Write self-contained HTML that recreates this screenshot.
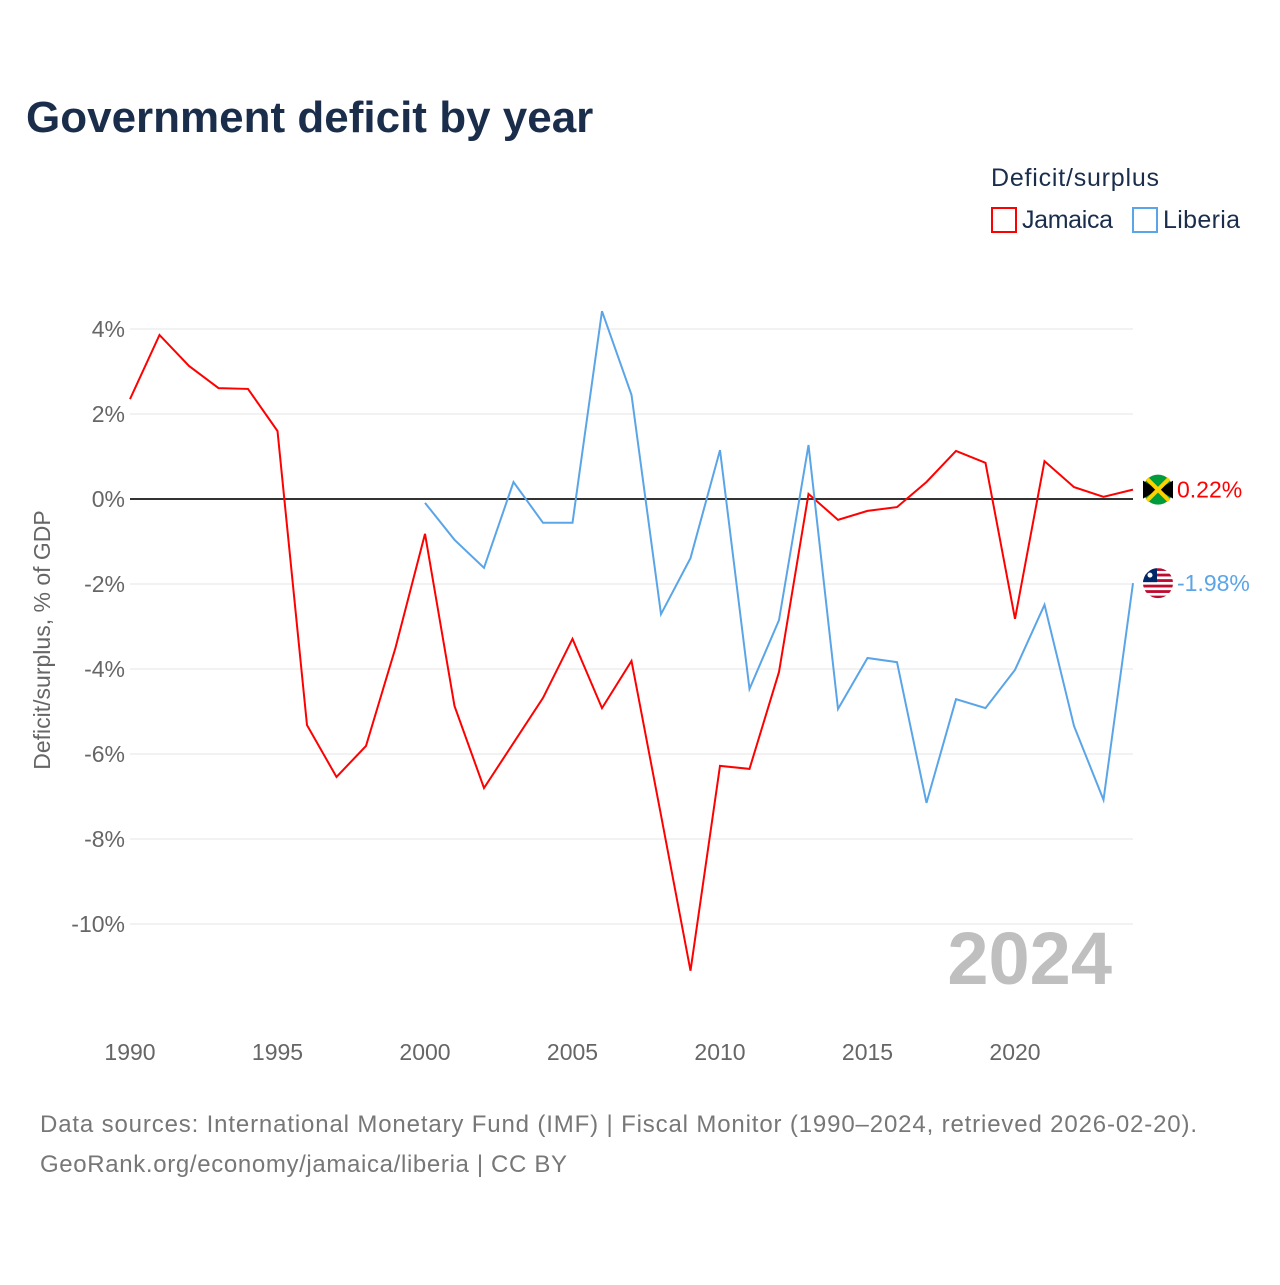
<!DOCTYPE html>
<html><head><meta charset="utf-8"><style>
body{margin:0;background:#fff;width:1280px;height:1280px;overflow:hidden;font-family:"Liberation Sans",sans-serif}
</style></head><body>
<svg id="chart" width="1280" height="1280" xmlns="http://www.w3.org/2000/svg">
<defs><clipPath id="lbclip"><circle id="lbc" cx="1158" cy="583" r="15"/></clipPath></defs>
<text x="26" y="132" font-size="44" font-weight="bold" fill="#1a2e4c">Government deficit by year</text>
<text x="991" y="186" font-size="25" fill="#1a2e4c" textLength="168">Deficit/surplus</text>
<g><rect x="992" y="208" width="24" height="24" fill="none" stroke="#ff0000" stroke-width="2"/><text x="1022" y="228" font-size="25" fill="#1a2e4c" textLength="91">Jamaica</text></g>
<g><rect x="1133" y="208" width="24" height="24" fill="none" stroke="#5aa5e8" stroke-width="2"/><text x="1163" y="228" font-size="25" fill="#1a2e4c" textLength="77">Liberia</text></g>
<text transform="translate(50,640) rotate(-90)" text-anchor="middle" font-size="23" fill="#666">Deficit/surplus, % of GDP</text>
<g id="grid"></g><g id="series"></g>
<text x="1112" y="984" text-anchor="end" font-size="74" font-weight="bold" fill="#bfbfbf">2024</text>
<text x="40" y="1132" font-size="24" fill="#777" textLength="1157">Data sources: International Monetary Fund (IMF) | Fiscal Monitor (1990–2024, retrieved 2026-02-20).</text>
<text x="40" y="1172" font-size="24" fill="#777" textLength="527">GeoRank.org/economy/jamaica/liberia | CC BY</text>
</svg>
<script>
const years=[];for(let y=1990;y<=2024;y++)years.push(y);
const jamaica=[2.35,3.86,3.13,2.61,2.59,1.6,-5.32,-6.54,-5.81,-3.5,-0.82,-4.87,-6.8,-5.74,-4.68,-3.29,-4.92,-3.81,-7.44,-11.1,-6.28,-6.35,-4.07,0.12,-0.49,-0.28,-0.19,0.4,1.13,0.85,-2.82,0.89,0.28,0.05,0.22];
const liberiaYears=[];for(let y=2000;y<=2024;y++)liberiaYears.push(y);
const liberia=[-0.09,-0.96,-1.62,0.4,-0.56,-0.56,4.42,2.45,-2.71,-1.39,1.15,-4.47,-2.85,1.27,-4.94,-3.74,-3.84,-7.15,-4.71,-4.92,-4.02,-2.49,-5.34,-7.08,-1.98];
const yTicks=[4,2,0,-2,-4,-6,-8,-10];
const xTicks=[1990,1995,2000,2005,2010,2015,2020];
const NS="http://www.w3.org/2000/svg";
const X=v=>130+(v-1990)*(1133-130)/34;
const Y=v=>499-v*42.5;
function mk(t,a,p){const e=document.createElementNS(NS,t);for(const k in a)e.setAttribute(k,a[k]);p.appendChild(e);return e;}
const grid=document.getElementById('grid'),ser=document.getElementById('series');
yTicks.forEach(t=>{
  const l=mk('line',{x1:130,x2:1133,y1:Y(t),y2:Y(t),stroke:t===0?'#333':'#e6e6e6','stroke-width':t===0?2:1},grid);
  
  
  const tx=mk('text',{x:125,y:Y(t)+8,'text-anchor':'end','font-size':23,fill:'#666'},grid);
  tx.textContent=t+'%';
  
  
});
xTicks.forEach(t=>{
  const tx=mk('text',{x:X(t),y:1060,'text-anchor':'middle','font-size':23,fill:'#666'},grid);
  tx.textContent=t;
  
  
});
function line(xs,vs,c,name){
  const p=mk('polyline',{points:xs.map((x,i)=>X(x)+','+Y(vs[i])).join(' '),fill:'none',stroke:c,'stroke-width':2},ser);
  
  
}
line(years,jamaica,'#ff0000','jamaica-line');
line(liberiaYears,liberia,'#5aa5e8','liberia-line');
const jy=Y(jamaica[jamaica.length-1]),ly=Y(liberia[liberia.length-1]);
document.getElementById('lbc').setAttribute('cy',ly);
const fj=mk('g',{},ser);


mk('circle',{cx:1158,cy:jy,r:15,fill:'#009b3a'},fj);
mk('path',{d:`M1143 ${jy-9} L1158 ${jy} L1143 ${jy+9}Z M1173 ${jy-9} L1158 ${jy} L1173 ${jy+9}Z`,fill:'#000'},fj);
mk('path',{d:`M1147 ${jy-11} L1169 ${jy+11} M1169 ${jy-11} L1147 ${jy+11}`,stroke:'#fed100','stroke-width':4},fj);
const fl=mk('g',{'clip-path':'url(#lbclip)'},ser);


mk('rect',{x:1143,y:ly-15,width:30,height:30,fill:'#fff'},fl);
for(let i=0;i<6;i++)mk('rect',{x:1143,y:ly-15+i*5.5,width:30,height:2.8,fill:'#bf0a30'},fl);
mk('rect',{x:1143,y:ly-15,width:14,height:14,fill:'#002868'},fl);
mk('circle',{cx:1150,cy:ly-8,r:2.5,fill:'#fff'},fl);
const tj=mk('text',{x:1177,y:jy+8,'font-size':23,fill:'#ff0000'},ser);
tj.textContent=jamaica[jamaica.length-1].toFixed(2)+'%';


const tl=mk('text',{x:1177,y:ly+8,'font-size':23,fill:'#5aa5e8'},ser);
tl.textContent=liberia[liberia.length-1].toFixed(2)+'%';


</script>
</body></html>
